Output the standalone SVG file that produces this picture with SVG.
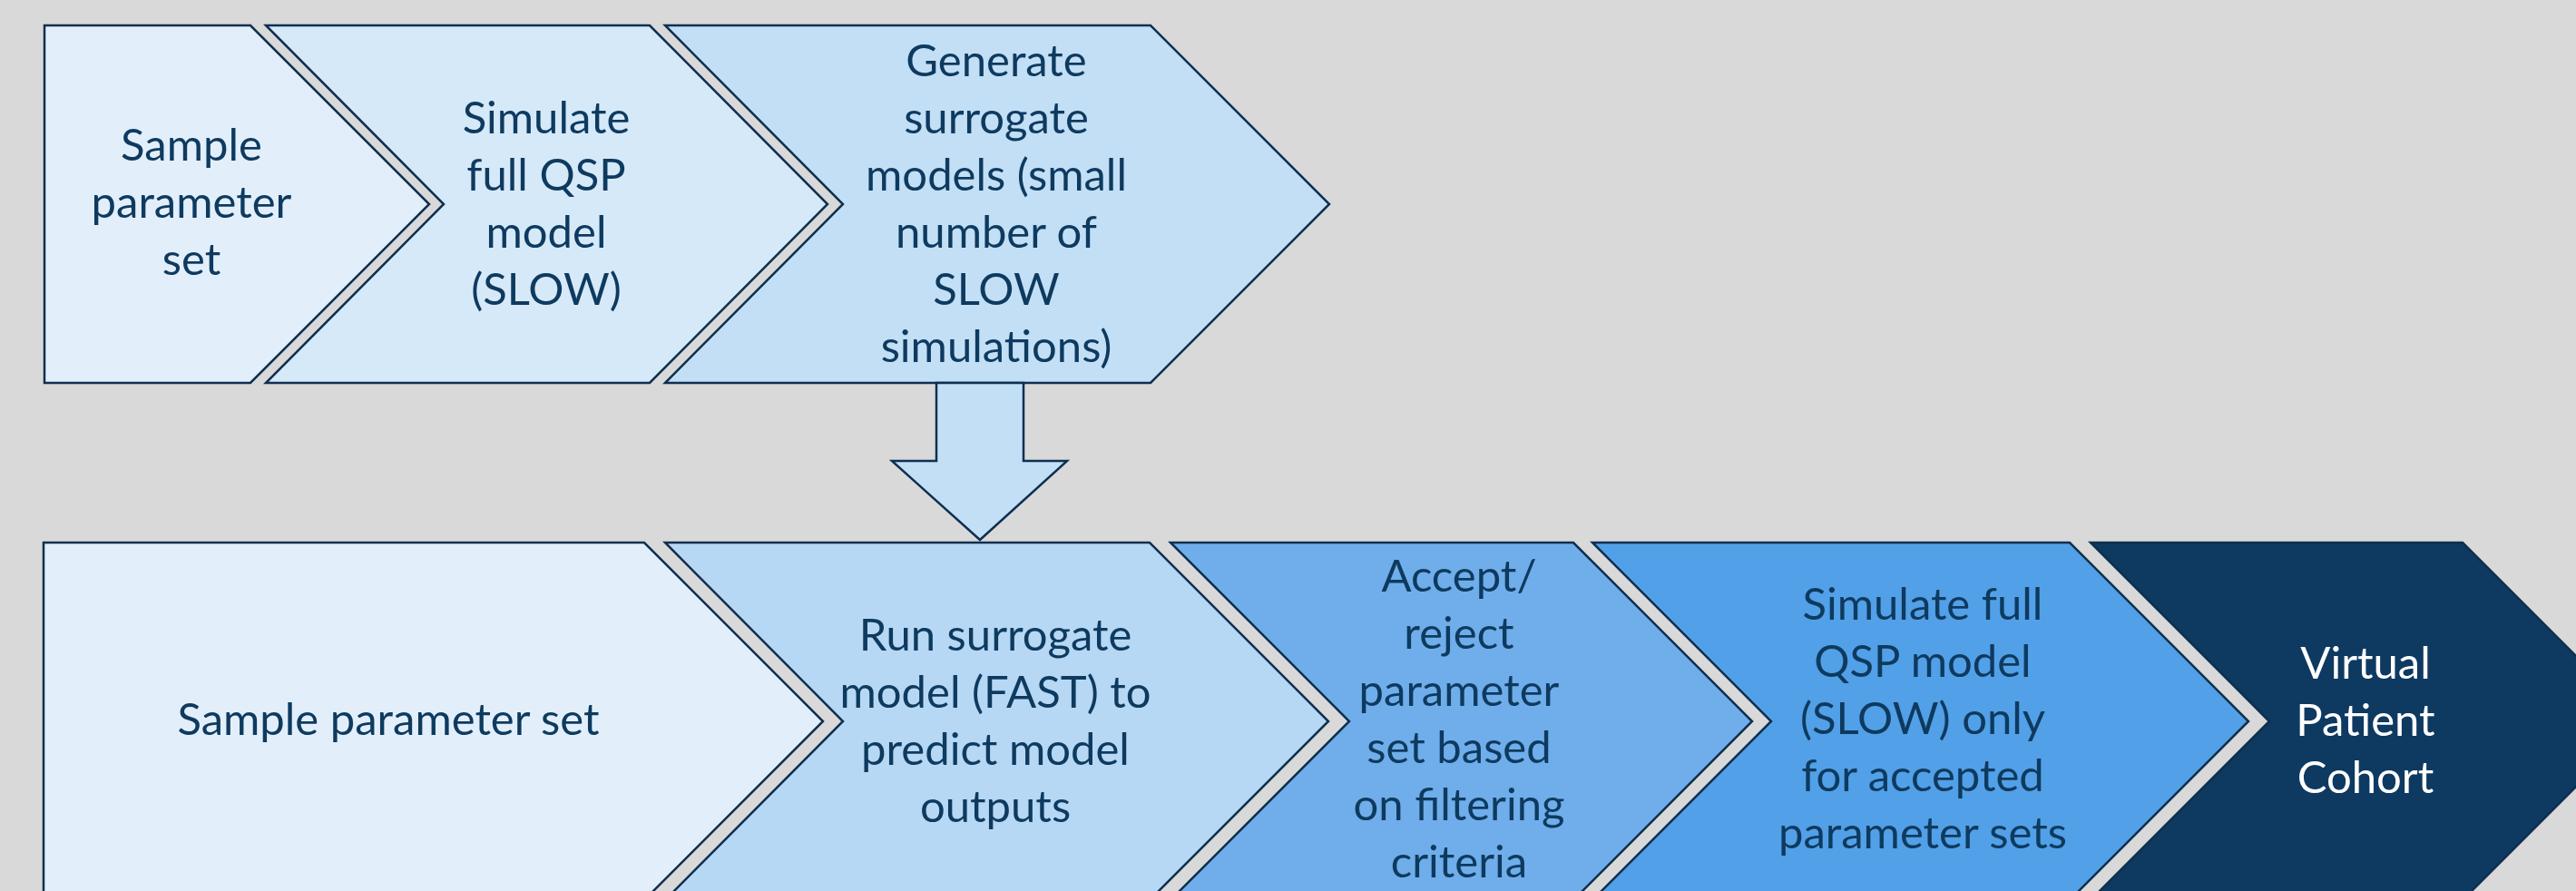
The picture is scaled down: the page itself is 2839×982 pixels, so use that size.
<svg xmlns="http://www.w3.org/2000/svg" width="2839" height="982" viewBox="0 0 2839 982">
  <style>
    .shape { stroke: #0f2f4f; stroke-width: 2.5; stroke-linejoin: miter; }
    .label { font-family: Lato, "Open Sans", "Liberation Sans", sans-serif; font-size: 49px; fill: #0e3a5f; text-anchor: middle; }
    .light { fill: #ffffff; }
  </style>
  <rect width="2839" height="982" fill="#d9d9d9"/>

  <!-- top row: slow workflow -->
  <g id="top-sample">
    <path class="shape" fill="#e2effb" d="M49,28 L276,28 L473,225 L276,422 L49,422 Z"/>
    <text class="label" x="211" y="177">Sample</text>
    <text class="label" x="211" y="240">parameter</text>
    <text class="label" x="211" y="303">set</text>
  </g>
  <g id="top-simulate">
    <path class="shape" fill="#d6e9f9" d="M293,28 L716,28 L912,225 L716,422 L293,422 L489,225 Z"/>
    <text class="label" x="602" y="147">Simulate</text>
    <text class="label" x="602" y="210">full QSP</text>
    <text class="label" x="602" y="273">model</text>
    <text class="label" x="602" y="336">(SLOW)</text>
  </g>
  <g id="top-surrogate">
    <path class="shape" fill="#c2dff6" d="M733,28 L1268,28 L1465,225 L1268,422 L733,422 L929,225 Z"/>
    <text class="label" x="1098" y="84">Generate</text>
    <text class="label" x="1098" y="147">surrogate</text>
    <text class="label" x="1098" y="210">models (small</text>
    <text class="label" x="1098" y="273">number of</text>
    <text class="label" x="1098" y="336">SLOW</text>
    <text class="label" x="1098" y="399">simulations)</text>
  </g>

  <!-- connector between the two rows -->
  <g id="connectors">
    <path class="shape" fill="#c2dff6" stroke-width="3" d="M1032,422 L1128,422 L1128,508 L1176,508 L1080,595 L983,508 L1032,508 Z"/>
  </g>

  <!-- bottom row: surrogate-assisted workflow -->
  <g id="bottom-sample">
    <path class="shape" fill="#e2effb" d="M48,598 L710,598 L907,795 L710,992 L48,992 Z"/>
    <text class="label" x="428" y="810">Sample parameter set</text>
  </g>
  <g id="bottom-run">
    <path class="shape" fill="#b6d8f4" d="M733,598 L1267,598 L1464,795 L1267,992 L733,992 L929,795 Z"/>
    <text class="label" x="1097" y="717">Run surrogate</text>
    <text class="label" x="1097" y="780">model (FAST) to</text>
    <text class="label" x="1097" y="843">predict model</text>
    <text class="label" x="1097" y="906">outputs</text>
  </g>
  <g id="bottom-filter">
    <path class="shape" fill="#6faeea" d="M1290,598 L1734,598 L1931,795 L1734,992 L1290,992 L1487,795 Z"/>
    <text class="label" x="1608" y="652">Accept/</text>
    <text class="label" x="1608" y="715">reject</text>
    <text class="label" x="1608" y="778">parameter</text>
    <text class="label" x="1608" y="841">set based</text>
    <text class="label" x="1608" y="904">on filtering</text>
    <text class="label" x="1608" y="967">criteria</text>
  </g>
  <g id="bottom-simulate">
    <path class="shape" fill="#52a0e7" d="M1755,598 L2281,598 L2478,795 L2281,992 L1755,992 L1952,795 Z"/>
    <text class="label" x="2119" y="683">Simulate full</text>
    <text class="label" x="2119" y="746">QSP model</text>
    <text class="label" x="2119" y="809">(SLOW) only</text>
    <text class="label" x="2119" y="872">for accepted</text>
    <text class="label" x="2119" y="935">parameter sets</text>
  </g>
  <g id="bottom-cohort">
    <path class="shape" fill="#0e3961" stroke="#2a4a6a" d="M2304,598 L2714,598 L2911,795 L2714,992 L2304,992 L2501,795 Z"/>
    <text class="label light" x="2607" y="748">Virtual</text>
    <text class="label light" x="2607" y="811">Patient</text>
    <text class="label light" x="2607" y="874">Cohort</text>
  </g>
</svg>
